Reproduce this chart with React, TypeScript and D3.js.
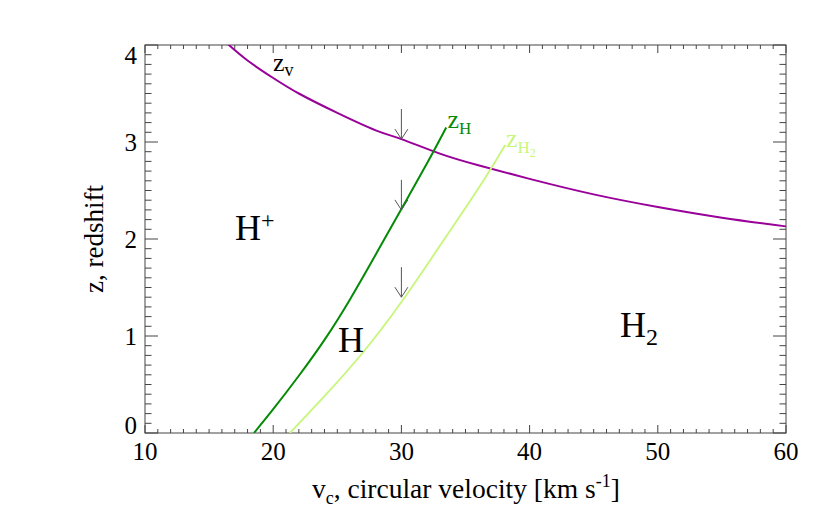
import React from 'react';
import * as d3 from 'd3';

// z_v curve (purple)
const vZv = [16.2, 18, 20, 22, 25, 28, 30, 33, 36, 40, 45, 50, 55, 60];
const zZv = [4.04, 3.84, 3.66, 3.5, 3.3, 3.12, 3.03, 2.88, 2.76, 2.62, 2.46, 2.33, 2.22, 2.13];
// z_H curve (dark green)
const vH = [18.5, 20, 22, 24, 26, 28, 30, 32, 33.5];
const zH = [0, 0.245, 0.59, 0.96, 1.38, 1.84, 2.31, 2.78, 3.15];
// z_H2 curve (light green)
const vH2 = [21.3, 24, 27, 30, 33, 36, 38.1];
const zH2 = [0, 0.38, 0.83, 1.35, 1.93, 2.52, 2.97];
// arrows at v = 30 pointing down onto each curve
const arrowV = 30;
const arrowTips = [3.03, 2.3, 1.4];
const arrowLen = 0.31;

const xTicks = [10, 20, 30, 40, 50, 60];
const yTicks = [0, 1, 2, 3, 4];

const W = 830, H = 526;
const left = 145, right = 786, top = 45, bottom = 433;
const font = '"Liberation Serif", "Times New Roman", Times, serif';
const purple = '#990099';
const green = '#058a05';
const lime = '#c6f77a';
const axisCol = '#444';

export default function App() {
  const x = d3.scaleLinear().domain([10, 60]).range([left, right]);
  const y = d3.scaleLinear().domain([0, 4]).range([bottom, top]);

  const line = d3.line<[number, number]>()
    .x(d => x(d[0]))
    .y(d => y(d[1]))
    .curve(d3.curveNatural);

  const zip = (a: number[], b: number[]) => a.map((v, i) => [v, b[i]] as [number, number]);

  const xMinor = d3.range(10, 61, 1);
  const yMinor = d3.range(0, 40.5, 1).map(d => d / 10);
  const xLen = (v: number) => (v % 10 === 0 ? 8 : 4);
  const yLen = (v: number) => (Math.abs(v - Math.round(v)) < 1e-6 ? 13 : 6.5);

  return (
    <svg width={W} height={H} style={{ position: 'absolute', left: 0, top: 0, background: '#fff', fontFamily: font }}>
      <defs>
        <clipPath id="plot">
          <rect x={left} y={top} width={right - left} height={bottom - top} />
        </clipPath>
      </defs>

      {/* frame and ticks */}
      <rect x={left} y={top} width={right - left} height={bottom - top} fill="none" stroke={axisCol} strokeWidth={1} />
      {xMinor.map(v => (
        <g key={'xt' + v} stroke={axisCol} strokeWidth={1}>
          <line x1={x(v)} x2={x(v)} y1={bottom} y2={bottom - xLen(v)} />
          <line x1={x(v)} x2={x(v)} y1={top} y2={top + xLen(v)} />
        </g>
      ))}
      {yMinor.map(v => (
        <g key={'yt' + v} stroke={axisCol} strokeWidth={1}>
          <line x1={left} x2={left + yLen(v)} y1={y(v)} y2={y(v)} />
          <line x1={right} x2={right - yLen(v)} y1={y(v)} y2={y(v)} />
        </g>
      ))}
      {xTicks.map(v => (
        <text key={'xl' + v} x={x(v)} y={460} textAnchor="middle" fontSize={25} fill="#000">{v}</text>
      ))}
      {yTicks.map(v => (
        <text key={'yl' + v} x={137} y={Math.min(Math.max(y(v), top + 10), bottom - 8)} dy="0.35em"
          textAnchor="end" fontSize={25} fill="#000">{v}</text>
      ))}

      {/* axis titles */}
      <text x={312} y={498} fontSize={27.5} fill="#000">
        v<tspan fontSize={18} dy={6}>c</tspan><tspan dy={-6}>, circular velocity [km s</tspan>
        <tspan fontSize={18} dy={-11}>-1</tspan><tspan dy={11}>]</tspan>
      </text>
      <text transform={`translate(103, ${(top + bottom) / 2}) rotate(-90)`} textAnchor="middle" fontSize={27} fill="#000">
        z, redshift
      </text>

      {/* curves */}
      <g clipPath="url(#plot)" fill="none">
        <path d={line(zip(vZv, zZv)) || ''} stroke={purple} strokeWidth={2} />
        <path d={line(zip(vH, zH)) || ''} stroke={green} strokeWidth={2} />
        <path d={line(zip(vH2, zH2)) || ''} stroke={lime} strokeWidth={1.8} />
      </g>

      {/* arrows */}
      {arrowTips.map((t, i) => {
        const ax = x(arrowV), y0 = y(t + arrowLen), y1 = y(t);
        return (
          <g key={'ar' + i} stroke="#555" strokeWidth={1} fill="none">
            <line x1={ax} x2={ax} y1={y0} y2={y1} />
            <polyline points={`${ax - 6.5},${y1 - 10} ${ax},${y1} ${ax + 6.5},${y1 - 10}`} />
          </g>
        );
      })}

      {/* region labels */}
      <text x={x(17.02)} y={y(1.99)} fontSize={36} fill="#000">
        H<tspan fontSize={24} dy={-12}>+</tspan>
      </text>
      <text x={x(25.05)} y={y(0.84)} fontSize={36} fill="#000">H</text>
      <text x={x(47.05)} y={y(0.99)} fontSize={36} fill="#000">
        H<tspan fontSize={24} dy={8}>2</tspan>
      </text>

      {/* curve labels */}
      <text x={x(19.98)} y={y(3.735)} fontSize={26} fill="#000">
        z<tspan fontSize={18} dy={5}>v</tspan>
      </text>
      <text x={x(33.6)} y={y(3.14)} fontSize={26} fill={green}>
        z<tspan fontSize={17} dy={6}>H</tspan>
      </text>
      <text x={x(38.16)} y={y(2.95)} fontSize={26} fill={lime}>
        z<tspan fontSize={17} dy={6}>H</tspan><tspan fontSize={12} dy={4}>2</tspan>
      </text>
    </svg>
  );
}
